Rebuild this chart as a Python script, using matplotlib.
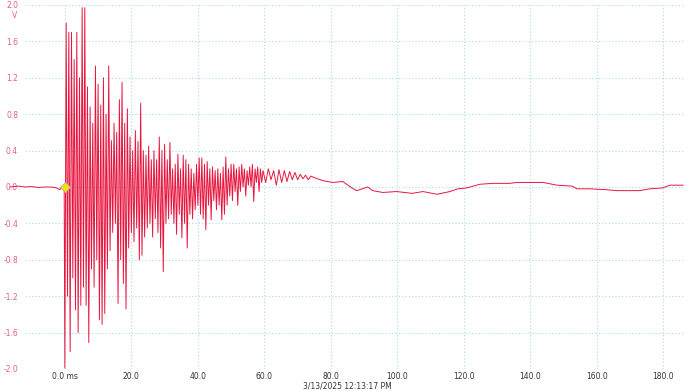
import numpy as np
import matplotlib.pyplot as plt

# pre-trigger baseline (ms, V)
pre_t = [-16.5, -14.0, -12.0, -10.0, -8.0, -6.0, -4.0, -2.5, -1.5, -1.0, -0.5, -0.2]
pre_v = [0.0, 0.01, 0.0, 0.005, -0.005, 0.0, 0.0, -0.01, -0.03, 0.0, -0.02, 0.0]

# ringing burst, one extreme every 0.4 ms starting at 0 ms
burst_step = 0.4
burst_v = [
    -1.99, 1.80, -1.20, 1.70, -1.81, 1.70, -1.00, 1.40, -1.35, 1.70,
    -1.60, 1.20, -1.30, 1.97, -1.10, 1.97, -1.30, 1.10, -1.71, 0.88,
    -0.90, 0.70, -1.10, 1.33, -0.80, 1.13, -1.46, 0.90, -1.51, 1.20,
    -1.39, 0.80, -0.90, 1.33, -0.70, 0.51, -0.50, 0.70, -0.40, 0.60,
    -1.28, 0.96, -0.80, 1.15, -1.06, 0.70, -1.34, 0.86, -0.67, 0.55,
    -0.50, 0.40, -0.60, 0.62, -0.45, 0.50, -0.80, 0.92, -0.75, 0.40,
    -0.55, 0.35, -0.45, 0.45, -0.40, 0.30, -0.55, 0.40, -0.35, 0.30,
    -0.50, 0.55, -0.67, 0.40, -0.93, 0.47, -0.40, 0.30, -0.35, 0.49,
    -0.30, 0.20, -0.40, 0.25, -0.52, 0.36, -0.30, 0.20, -0.56, 0.35,
    -0.40, 0.30, -0.67, 0.25, -0.30, 0.20, -0.35, 0.15, -0.25, 0.25,
    -0.20, 0.32, -0.30, 0.32, -0.35, 0.25, -0.47, 0.28, -0.20, 0.20,
    -0.36, 0.22, -0.15, 0.18, -0.25, 0.20, -0.20, 0.15, -0.36, 0.22,
    -0.30, 0.33, -0.20, 0.20, -0.10, 0.25, -0.15, 0.25, -0.05, 0.20,
    -0.20, 0.22, -0.05, 0.25, 0.00, 0.20, -0.10, 0.18, 0.02, 0.22,
    0.00, 0.25, -0.16, 0.20, 0.05, 0.22, -0.05, 0.20, 0.05, 0.18,
]
burst_t = np.arange(len(burst_v)) * burst_step

# decaying tail and slow drift (ms, V)
tail_t = [60.4, 61.2, 62.0, 62.8, 63.6, 64.4, 65.2, 66.0, 66.8, 67.6, 68.4, 69.2,
          70.0, 70.8, 71.6, 72.4, 73.2, 74.0, 75.2, 76.0, 77.6, 79.0, 80.6, 83.6,
          86.3, 87.8, 91.1, 92.6, 95.6, 99.8, 104.4, 107.7, 111.9, 115.8, 118.2,
          120.9, 124.8, 128.7, 133.8, 135.9, 143.8, 148.0, 152.5, 154.0, 157.9,
          163.0, 166.0, 172.9, 175.9, 179.8, 182.0, 185.9]
tail_v = [0.05, 0.20, 0.08, 0.18, 0.02, 0.19, 0.05, 0.18, 0.06, 0.17, 0.08, 0.16,
          0.08, 0.14, 0.09, 0.13, 0.08, 0.12, 0.10, 0.09, 0.07, 0.06, 0.05, 0.06,
          -0.01, -0.04, 0.0, -0.04, -0.06, -0.05, -0.07, -0.05, -0.08, -0.05, -0.02,
          -0.01, 0.03, 0.04, 0.04, 0.05, 0.05, 0.02, 0.01, -0.02, -0.02,
          -0.03, -0.04, -0.04, -0.02, -0.01, 0.02, 0.02]

t = np.concatenate([pre_t, burst_t, tail_t])
v = np.concatenate([pre_v, burst_v, tail_v])

y_ticks = [2.0, 1.6, 1.2, 0.8, 0.4, 0.0, -0.4, -0.8, -1.2, -1.6, -2.0]
x_ticks = [0, 20, 40, 60, 80, 100, 120, 140, 160, 180]
x_labels = ['0.0 ms'] + ['%.1f' % x for x in x_ticks[1:]]

fig = plt.figure(figsize=(6.94, 3.91), dpi=100)
ax = fig.add_axes([0, 22 / 391, 684 / 694, 364 / 391])
xmin, xmax = -19.5, 186.2
ax.set_xlim(xmin, xmax)
ax.set_ylim(-2.0, 2.0)

grid_c = '#a9d9ea'
ax.hlines(y_ticks, -12.0, xmax, colors=grid_c, linestyles=(0, (1, 2)), lw=0.8, zorder=1)
ax.vlines(x_ticks, -2.0, 2.0, colors=grid_c, linestyles=(0, (1, 2)), lw=0.8, zorder=1)

ax.plot(t, v, color='#e8163f', lw=0.7, zorder=3)
ax.plot([0], [0], marker='D', ms=5, color='#f4e400', mec='#b0b0b0', mew=0.6, zorder=4)

ax.set_yticks(y_ticks)
ax.set_yticklabels(['%.1f' % y for y in y_ticks])
ax.tick_params(axis='y', length=0, pad=-13, labelsize=5.5, labelcolor='#e8607a')
ax.set_xticks(x_ticks)
ax.set_xticklabels(x_labels)
ax.tick_params(axis='x', length=0, pad=2, labelsize=5.5, labelcolor='#333333')
for s in ax.spines.values():
    s.set_visible(False)

fig.text(15 / 694, 1 - 15 / 391, 'V', fontsize=5.5, color='#e8607a', ha='center', va='center')
fig.text(347 / 694, 5 / 391, '3/13/2025 12:13:17 PM', fontsize=5.5, color='#333333',
         ha='center', va='center')

fig.savefig('out.png', dpi=100)
